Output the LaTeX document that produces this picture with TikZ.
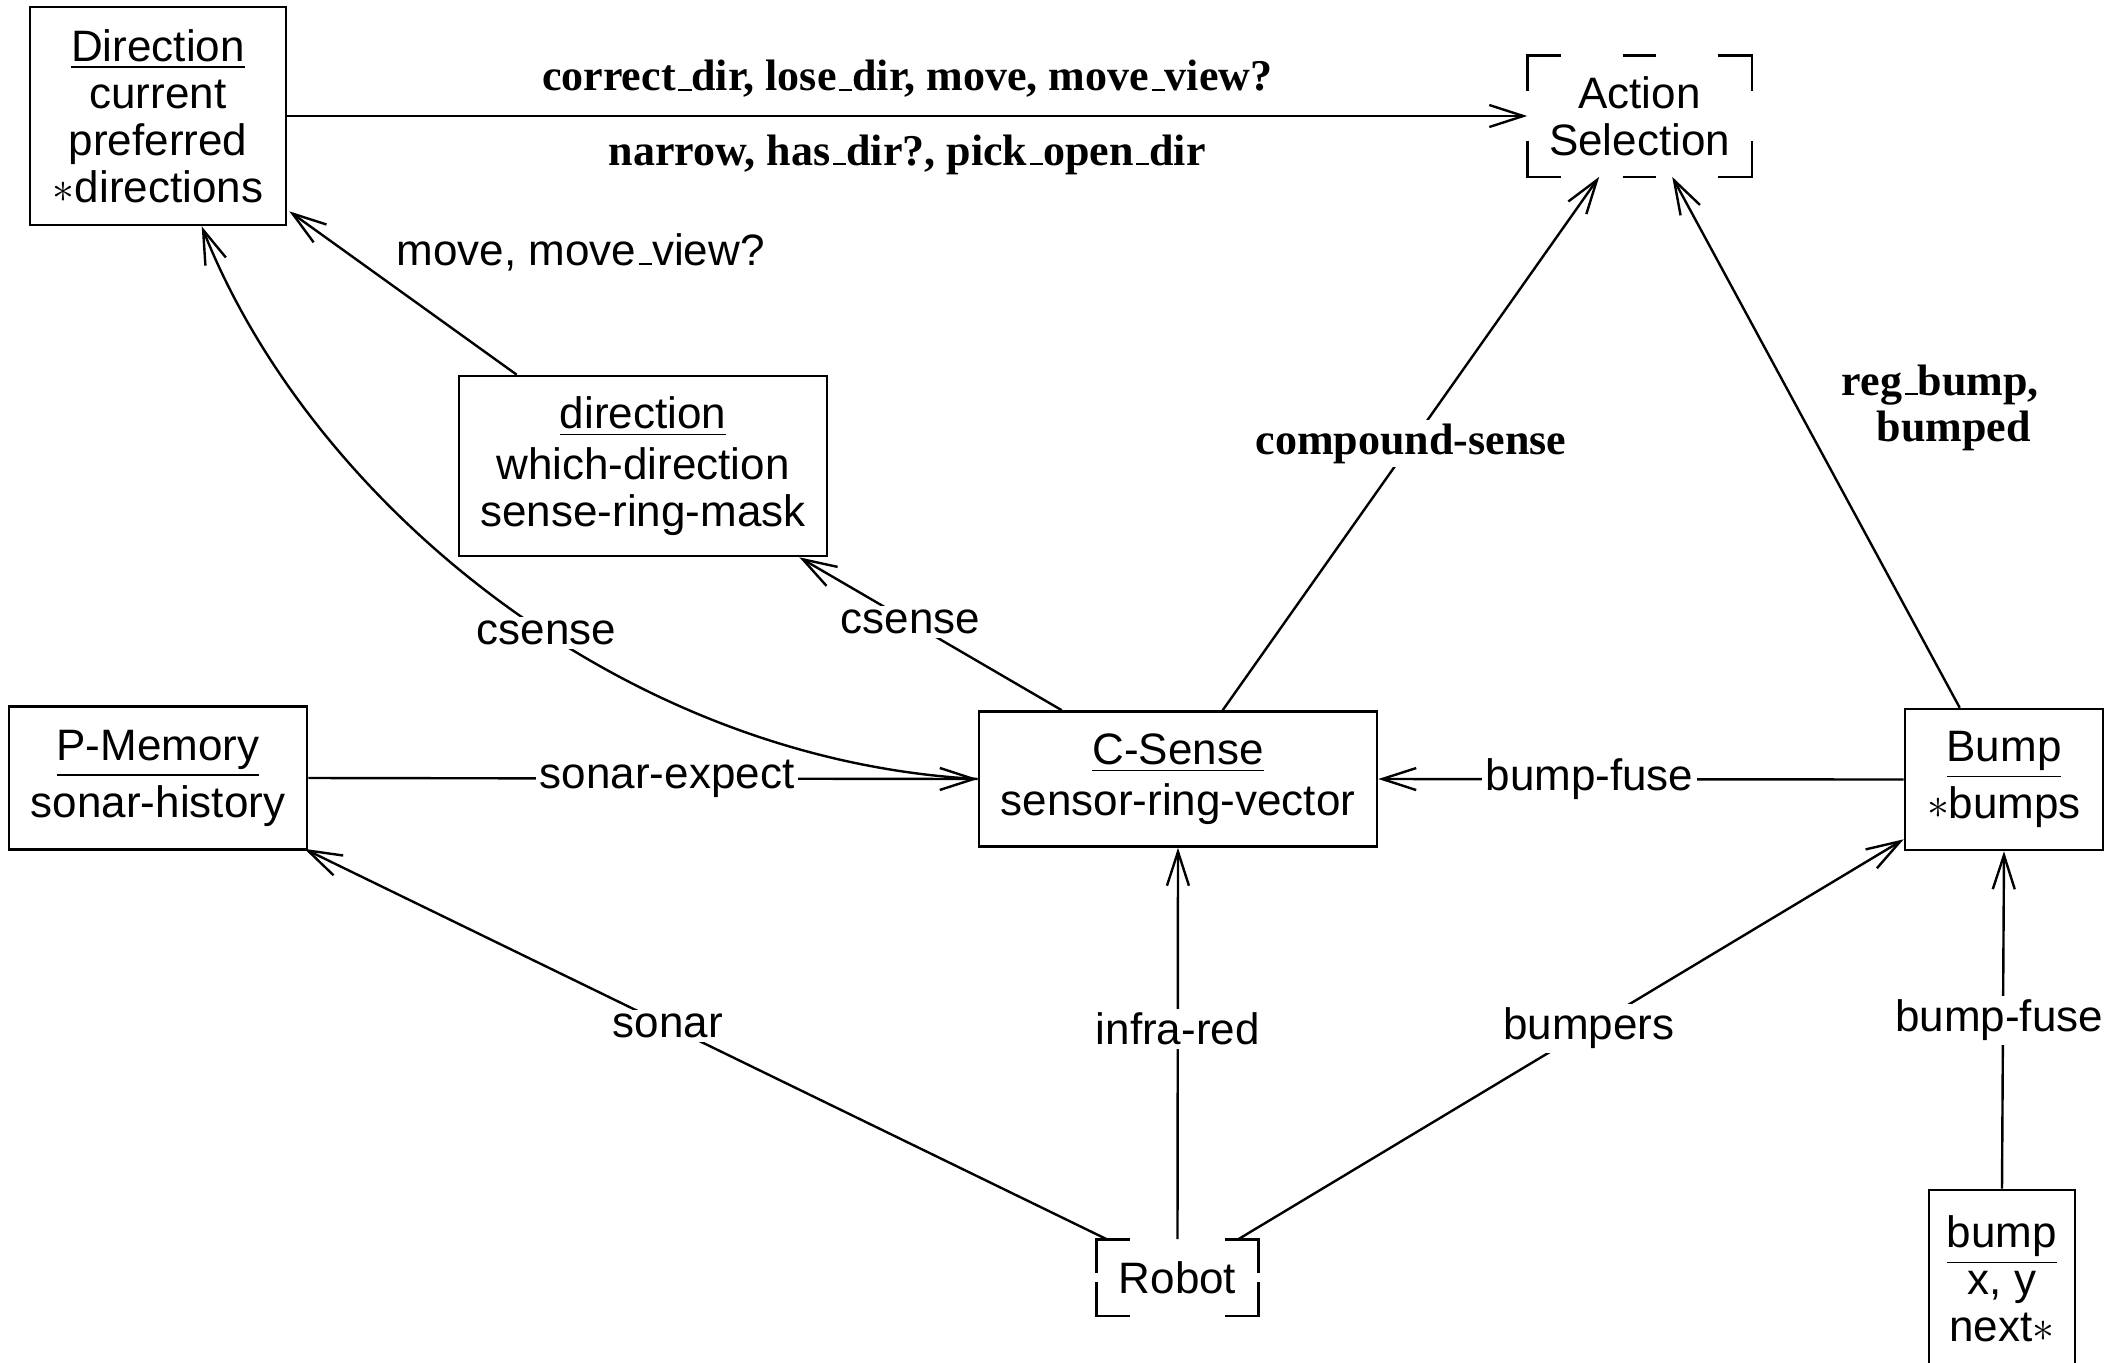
\documentclass[tikz,border=0pt]{standalone}
\usepackage{fontspec}
\setmainfont{Liberation Sans}
\newfontfamily\labelserif{Liberation Serif}
\usetikzlibrary{arrows.meta,calc}

% classic low, short underscore
\newcommand\usc{\leavevmode\kern.06em\vbox{\hrule width.3em height .5pt}}
\newcommand\boxfont{\fontsize{11}{11.75}\selectfont}
\newcommand\boldlblfont{\labelserif\bfseries\fontsize{11}{11.5}\selectfont}

% L-shaped corner marks of an open box: node, horizontal arm, vertical arm
\newcommand\cornermarks[3]{%
  \draw[boxline] ($(#1.north west)+(0,#3)$) |- ($(#1.north west)+(#2,0)$);
  \draw[boxline] ($(#1.north east)+(-#2,0)$) -| ($(#1.north east)+(0,#3)$);
  \draw[boxline] ($(#1.south west)+(0,-#3)$) |- ($(#1.south west)+(#2,0)$);
  \draw[boxline] ($(#1.south east)+(-#2,0)$) -| ($(#1.south east)+(0,-#3)$);
}

\begin{document}
\begin{tikzpicture}[x=0.25pt,y=-0.25pt,
  boxline/.style={line width=0.65pt},
  box/.style={boxline, draw, align=center, inner sep=0pt, font=\boxfont},
  openbox/.style={align=center, inner sep=0pt, font=\boxfont},
  conn/.style={line width=0.6pt, -{Straight Barb[length=8.5pt,width=5.5pt]}},
  onlbl/.style={fill=white, inner sep=1pt, font=\boxfont},
  sidelbl/.style={font=\boxfont, align=center},
  boldlbl/.style={font=\boldlblfont, align=center},
]
\useasboundingbox (0,0) rectangle (2121,1362);
\clip (0,0) rectangle (2121,1362);

% ---- classes ----
\node[box, minimum width=64pt, minimum height=54.5pt] (dir) at (158,116)
  {\underline{Direction}\\current\\preferred\\$\ast$directions};
\node[openbox, minimum width=55.75pt, minimum height=30pt] (as) at (1639.5,116)
  {Action\\Selection};
\node[box, minimum width=92pt, minimum height=45pt] (sm) at (643,466)
  {\underline{direction}\\[1pt]which-direction\\sense-ring-mask};
\node[box, minimum width=74.5pt, minimum height=35.75pt] (pm) at (158,778)
  {\underline{P-Memory}\\[1pt]sonar-history};
\node[box, minimum width=99.5pt, minimum height=33.75pt] (cs) at (1178,779)
  {\underline{C-Sense}\\[1pt]sensor-ring-vector};
\node[box, minimum width=49.5pt, minimum height=35.25pt] (bp) at (2004,779.5)
  {\underline{Bump}\\[1pt]$\ast$bumps};
\node[box, minimum width=36.5pt, minimum height=44.5pt] (sb) at (2002,1279)
  {\underline{bump}\\x, y\\next$\ast$};
\node[openbox, minimum width=40pt, minimum height=18.75pt] (rb) at (1177.5,1277.5)
  {Robot};

% open boxes: corner marks, plus middle dashes on the long sides
\cornermarks{as}{34}{36}
\draw[boxline] ($(as.north)+(-17,0)$) -- ($(as.north)+(16,0)$);
\draw[boxline] ($(as.south)+(-17,0)$) -- ($(as.south)+(16,0)$);
\cornermarks{rb}{33}{34}

% ---- connectors ----
\draw[conn] (dir.east) --
  node[above, boldlbl, yshift=1pt] {correct\usc dir, lose\usc dir, move, move\usc view?}
  node[below, boldlbl, yshift=-1pt] {narrow, has\usc dir?, pick\usc open\usc dir}
  (as.west);

\draw[conn] ($(sm.north west)+(59,0)$) --
  node[pos=0.75, right=9pt, sidelbl] {move, move\usc view?}
  ($(dir.south east)+(2,-15)$);

\draw[conn] (cs.west) .. controls (620,760) and (310,500) ..
  node[pos=0.44, onlbl] {csense}
  ($(dir.south west)+(173,0)$);

\draw[conn] ($(cs.north west)+(84,0)$) --
  node[pos=0.577, onlbl] {csense}
  ($(sm.south east)+(-29,0)$);

\draw[conn] ($(cs.north west)+(245,0)$) --
  node[pos=0.5, onlbl, font=\boldlblfont] {compound-sense}
  ($(as.south west)+(72,0)$);

\draw[conn] ($(bp.north west)+(56,0)$) --
  node[pos=0.565, right=7.5pt, boldlbl] {reg\usc bump,\\\hspace*{0.6em}bumped}
  ($(as.south west)+(145,0)$);

\draw[conn] (bp.west) -- node[pos=0.598, onlbl] {bump-fuse} (cs.east);
\draw[conn] (pm.east) -- node[pos=0.536, onlbl] {sonar-expect} (cs.west);

\draw[conn] ($(rb.north west)+(10,0)$) --
  node[pos=0.547, onlbl] {sonar} ($(pm.south east)+(-4,-2)$);
\draw[conn] (rb.north) -- node[pos=0.537, onlbl] {infra-red} (cs.south);
\draw[conn] ($(rb.north east)+(-20,0)$) --
  node[pos=0.527, onlbl] {bumpers} ($(bp.south west)+(0,-12)$);
\draw[conn] (sb.north) -- node[pos=0.5, onlbl, xshift=-1pt] {bump-fuse} (bp.south);
\end{tikzpicture}
\end{document}
